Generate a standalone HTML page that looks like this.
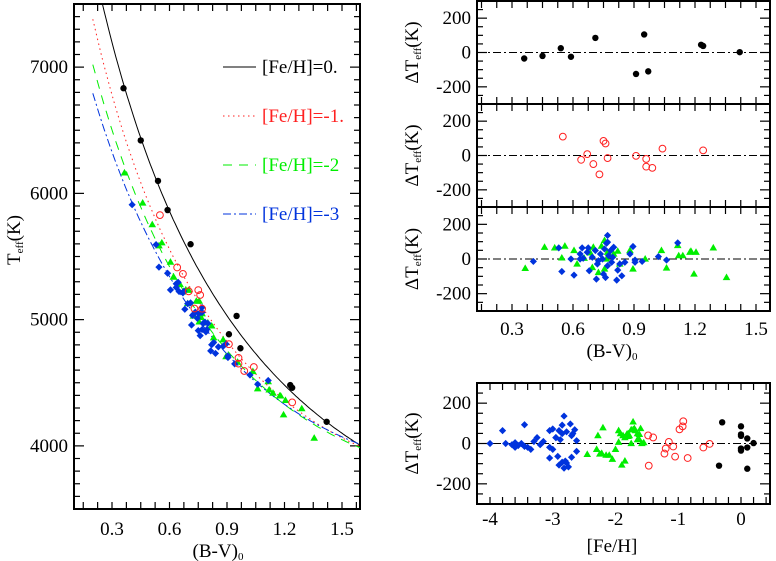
<!DOCTYPE html>
<html><head><meta charset="utf-8"><style>
html,body{margin:0;padding:0;background:#fff;}
svg{display:block;font-family:"Liberation Serif",serif;}
</style></head><body>
<svg id="c" width="776" height="561" viewBox="0 0 776 561" xmlns="http://www.w3.org/2000/svg"></svg>
<script>
// ---- data ----
const blackBV=[0.36,0.45,0.54,0.59,0.71,0.91,0.95,0.97,1.23,1.24,1.42];
const blackDT=[-35,-20,25,-25,85,-125,105,-110,45,38,2];
const blackFeH=[0,0.1,0.1,0,0,0.1,-0.3,-0.35,0,0,0.2];
const redBV=[0.55,0.64,0.67,0.70,0.73,0.75,0.76,0.77,0.91,0.96,0.96,0.99,1.04,1.24];
const redDT=[110,-25,8,-50,-110,85,70,-15,-2,-20,-65,-72,40,30];
const redFeH=[-0.92,-1.2,-1.15,-1.22,-1.47,-0.93,-0.98,-1.08,-0.5,-0.6,-1.05,-0.85,-1.48,-1.4];
const greenBV=[0.365,0.46,0.51,0.545,0.56,0.605,0.62,0.655,0.685,0.695,0.70,0.725,0.74,0.755,0.755,0.765,0.77,0.80,0.82,0.83,0.88,0.895,0.955,1.035,1.06,1.115,1.12,1.14,1.175,1.18,1.205,1.195,1.29,1.355];
const greenDT=[-54,68,64,6,74,49,-29,4,35,-49,68,-78,74,107,-58,0,39,29,45,-29,49,-58,0,49,-52,78,19,19,39,45,39,-87,64,-107];
const greenFeH=[-2.45,-1.72,-1.68,-1.95,-1.7,-1.65,-2.3,-1.55,-1.8,-2.22,-1.75,-2.05,-1.6,-1.72,-2.15,-1.75,-1.78,-1.85,-1.62,-2.0,-1.92,-2.1,-1.58,-1.8,-2.25,-2.2,-1.65,-1.62,-1.88,-1.82,-2.28,-1.85,-1.95,-1.9];
const blueBV=[0.405,0.53,0.545,0.59,0.605,0.635,0.635,0.645,0.65,0.67,0.675,0.68,0.695,0.71,0.715,0.72,0.725,0.735,0.745,0.75,0.755,0.76,0.765,0.77,0.77,0.77,0.775,0.785,0.79,0.795,0.80,0.815,0.82,0.83,0.84,0.855,0.88,0.895,0.905,0.905,0.94,1.02,1.06,1.115];
const blueDT=[-14,64,-72,0,-93,29,0,64,4,39,64,-68,10,49,-116,-29,-10,29,0,-87,58,-107,91,136,97,-39,19,49,-19,10,68,-122,-64,-29,-97,-19,29,72,-6,-19,-14,14,-6,93];
const blueFeH=[-3.45,-3.8,-3.05,-3.75,-2.85,-2.95,-3.5,-3.05,-3.6,-2.7,-2.9,-2.7,-3.3,-2.85,-2.75,-3.0,-3.55,-3.25,-4.0,-2.8,-2.78,-2.9,-2.85,-2.82,-2.72,-2.62,-2.88,-2.68,-3.05,-3.15,-2.65,-2.82,-2.92,-3.35,-2.78,-3.4,-2.95,-3.0,-3.2,-3.6,-3.45,-2.62,-3.65,-3.45];
// θ=5040/T = a + b*X + c*X^2 for [Fe/H]=0,-1,-2,-3
const fitA=[0.522,0.5535,0.5954,0.6248];
const fitB=[0.6254,0.6764,0.6405,0.613];
const fitC=[-0.1026,-0.1457,-0.1384,-0.1362];
const fitStart=[0.25,0.2,0.2,0.2];
const legendLabels=["[Fe/H]=0.","[Fe/H]=-1.","[Fe/H]=-2","[Fe/H]=-3"];
const colors=["#000","#ff2020","#00ee00","#0033dd"];
const dashes=["","1.5,3.5","9,7","8,3,2,3"];

const svg=document.getElementById('c');
const NS="http://www.w3.org/2000/svg";
const FS=19;
function mk(tag,attrs,parent){const e=document.createElementNS(NS,tag);for(const k in attrs)e.setAttribute(k,attrs[k]);(parent||svg).appendChild(e);return e;}
function teff(k,x){return 5040/(fitA[k]+fitB[k]*x+fitC[k]*x*x);}
function lin(d0,d1,p0,p1){return v=>p0+(v-d0)*(p1-p0)/(d1-d0);}

function panel(name,x0,x1,y0,y1,sx,sy,xt,xmin,yt,ymin,xlabels,xlabOff){
  const g=mk('g',{});
  
  
  const [dx0,dx1]=xt.range,[dy0,dy1]=yt.range;
  for(let v=xmin.start;v<=dx1+1e-9;v+=xmin.step){const X=sx(v);if(X<x0+1||X>x1-1)continue;
    mk('line',{x1:X,x2:X,y1:y1,y2:y1-7,stroke:'#000','stroke-width':1.2},g);
    mk('line',{x1:X,x2:X,y1:y0,y2:y0+7,stroke:'#000','stroke-width':1.2},g);}
  for(let v=ymin.start;v<=dy1+1e-9;v+=ymin.step){const Y=sy(v);if(Y<y0+1||Y>y1-1)continue;
    const major=Math.abs(Math.round((v-yt.start)/yt.step)*yt.step+yt.start-v)<1e-6;const L=major?10:6;
    mk('line',{x1:x0,x2:x0+L,y1:Y,y2:Y,stroke:'#000','stroke-width':1.2},g);
    mk('line',{x1:x1,x2:x1-L,y1:Y,y2:Y,stroke:'#000','stroke-width':1.2},g);}
  for(let v=yt.start;v<=dy1+1e-9;v+=yt.step){const Y=sy(v);if(Y<y0+2||Y>y1-2)continue;
    const t=mk('text',{x:x0-6,y:Y+6,'text-anchor':'end','font-size':FS},g);t.textContent=String(Math.round(v));
    }
  if(xlabels){for(let v=xt.start;v<=dx1+1e-9;v+=xt.step){const X=sx(v);
    const t=mk('text',{x:X,y:y1+xlabOff,'text-anchor':'middle','font-size':FS},g);t.textContent=xlabels(v);
    }}
  mk('rect',{x:x0,y:y0,width:x1-x0,height:y1-y0,fill:'none',stroke:'#000','stroke-width':2},g);
  return g;
}
function circ(g,x,y,fill,name){const c=mk('circle',{cx:x,cy:y,r:fill?3.2:3.4,fill:fill?'#000':'none',stroke:fill?'none':'#ff2020','stroke-width':1},g);
  }
function tri(g,x,y,name){const p=mk('polygon',{points:`${x},${y-4} ${x-3.8},${y+2.6} ${x+3.8},${y+2.6}`,fill:'#00ee00'},g);
  }
function dia(g,x,y,name){const p=mk('polygon',{points:`${x},${y-3.6} ${x+3.6},${y} ${x},${y+3.6} ${x-3.6},${y}`,fill:'#0033dd'},g);
  }
function plotSet(g,xs,ys,kind,name){for(let i=0;i<xs.length;i++){
  if(kind==0)circ(g,xs[i],ys[i],true,name);else if(kind==1)circ(g,xs[i],ys[i],false,name);
  else if(kind==2)tri(g,xs[i],ys[i],name);else dia(g,xs[i],ys[i],name);}}

// ---- main panel ----
const MX0=74,MX1=360,MY0=4,MY1=509;
const msx=lin(0.3,1.5,112,342), msy=lin(3500,7500,509,4);
const mg=panel('teff-vs-bv-panel',MX0,MX1,MY0,MY1,msx,msy,{start:0.3,step:0.3,range:[0.1,1.6]},{start:0.075,step:0.075},{start:4000,step:1000,range:[3500,7500]},{start:3500,step:100},v=>v.toFixed(1),26);
const clip=mk('clipPath',{id:'mclip'});mk('rect',{x:MX0,y:MY0,width:MX1-MX0,height:MY1-MY0},clip);
const cg=mk('g',{'clip-path':'url(#mclip)'},mg);
for(let k=0;k<4;k++){let d='';for(let x=fitStart[k];x<=1.62;x+=0.01){d+=(d?'L':'M')+msx(x).toFixed(1)+','+msy(teff(k,x)).toFixed(1);}
  const p=mk('path',{d:d,fill:'none',stroke:colors[k],'stroke-width':1,'stroke-dasharray':dashes[k]},cg);
  }
plotSet(cg,greenBV.map(msx),greenBV.map((x,i)=>msy(teff(2,x)+greenDT[i])),2,'green-star');
plotSet(cg,blueBV.map(msx),blueBV.map((x,i)=>msy(teff(3,x)+blueDT[i])),3,'blue-star');
plotSet(cg,redBV.map(msx),redBV.map((x,i)=>msy(teff(1,x)+redDT[i])),1,'red-star');
plotSet(cg,blackBV.map(msx),blackBV.map((x,i)=>msy(teff(0,x)+blackDT[i])),0,'black-star');
for(let k=0;k<4;k++){const y=67+k*49;
  const l=mk('line',{x1:223,x2:256,y1:y,y2:y,stroke:colors[k],'stroke-width':1,'stroke-dasharray':dashes[k]},mg);
  
  const t=mk('text',{x:262,y:y+6,'font-size':FS,fill:colors[k]},mg);t.textContent=legendLabels[k];
  }
let t=mk('text',{x:218,y:557,'text-anchor':'middle','font-size':FS});t.innerHTML='(B-V)<tspan font-size="11" dy="3">0</tspan>';

t=mk('text',{transform:'translate(20,240) rotate(-90)','text-anchor':'middle','font-size':FS});t.innerHTML='T<tspan font-size="11" dy="3">eff</tspan><tspan dy="-3">(K)</tspan>';


// ---- residual panels ----
const RX0=477,RX1=770;
const rsx=lin(0.3,1.5,512,756);
const rows=[[1,104],[104,207],[207,311]];
const sets=[[[blackBV,blackDT,0]],[[redBV,redDT,1]],[[greenBV,greenDT,2],[blueBV,blueDT,3]]];
const rnames=['residual-feh0-panel','residual-feh-1-panel','residual-feh-2-3-panel'];
for(let r=0;r<3;r++){const [y0,y1]=rows[r];const sy=lin(-300,300,y1,y0);
  const g=panel(rnames[r],RX0,RX1,y0,y1,rsx,sy,{start:0.3,step:0.3,range:[0.13,1.57]},{start:0.15,step:0.075},{start:-200,step:200,range:[-300,300]},{start:-300,step:50},r==2?(v=>v.toFixed(1)):null,24);
  const zl=mk('line',{x1:RX0,x2:RX1,y1:sy(0),y2:sy(0),stroke:'#000','stroke-width':1,'stroke-dasharray':'8,3,2,3'},g);
  
  for(const s of sets[r])plotSet(g,s[0].map(rsx),s[1].map(sy),s[2],'residual-point');
  const yt=mk('text',{transform:`translate(418,${(y0+y1)/2}) rotate(-90)`,'text-anchor':'middle','font-size':FS},g);
  yt.innerHTML='ΔT<tspan font-size="11" dy="3">eff</tspan><tspan dy="-3">(K)</tspan>';
  }
t=mk('text',{x:612,y:357,'text-anchor':'middle','font-size':FS});t.innerHTML='(B-V)<tspan font-size="11" dy="3">0</tspan>';


// ---- feh panel ----
{const y0=383,y1=504;const sy=lin(-300,300,y1,y0);const sx=lin(-4,0,490,741);
  const g=panel('residual-vs-feh-panel',RX0,RX1,y0,y1,sx,sy,{start:-4,step:1,range:[-4.2,0.46]},{start:-4.2,step:0.2},{start:-200,step:200,range:[-300,300]},{start:-300,step:50},v=>String(Math.round(v)),21);
  const zl=mk('line',{x1:RX0,x2:RX1,y1:sy(0),y2:sy(0),stroke:'#000','stroke-width':1,'stroke-dasharray':'8,3,2,3'},g);
  
  plotSet(g,blueFeH.map(sx),blueDT.map(sy),3,'residual-point');
  plotSet(g,greenFeH.map(sx),greenDT.map(sy),2,'residual-point');
  plotSet(g,redFeH.map(sx),redDT.map(sy),1,'residual-point');
  plotSet(g,blackFeH.map(sx),blackDT.map(sy),0,'residual-point');
  const yt=mk('text',{transform:`translate(418,${(y0+y1)/2}) rotate(-90)`,'text-anchor':'middle','font-size':FS},g);
  yt.innerHTML='ΔT<tspan font-size="11" dy="3">eff</tspan><tspan dy="-3">(K)</tspan>';
  
  const xt=mk('text',{x:612,y:552,'text-anchor':'middle','font-size':FS},g);xt.textContent='[Fe/H]';
  }
</script>
</body></html>
